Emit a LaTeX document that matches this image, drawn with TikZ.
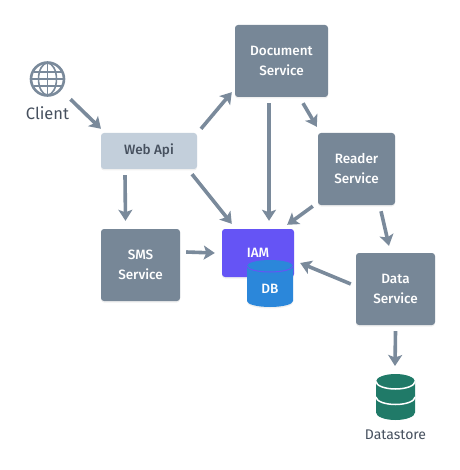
\documentclass[tikz,border=0pt]{standalone}
\usepackage{fontspec}
\setmainfont{Fira Sans}[UprightFont=* Medium]
\newfontfamily\labelfont{Fira Sans}
\usepackage{xcolor}
\usetikzlibrary{arrows.meta, shadows, calc}

\definecolor{svcgray}{HTML}{778797}
\definecolor{apigray}{HTML}{C3CFDB}
\definecolor{linegray}{HTML}{7A8A9B}
\definecolor{inkgray}{HTML}{46505E}
\definecolor{iampurple}{HTML}{6554F5}
\definecolor{dbblue}{HTML}{2B87DA}
\definecolor{storegreen}{HTML}{207A68}

\tikzset{
	softshadow/.style = {drop shadow={opacity=0.12, shadow xshift=0pt, shadow yshift=-1.5pt}},
	svcbox/.style = {rectangle, rounded corners=3pt, fill=svcgray, text=white, softshadow, align=center,
		inner sep=0pt, font=\fontsize{13.5}{20}\selectfont},
	arrow/.style = {arrows = {-Stealth[length=11pt, width=14pt, inset=2.5pt]}, line width=3.6pt, linegray},
	bandarc/.style = {start angle=180, end angle=360, x radius=#1}
}

\begin{document}
\begin{tikzpicture}[x=1pt, y=-1pt]
	\useasboundingbox (0,0) rectangle (459,470);

	% services
	\node (doc) [svcbox, minimum width=93pt, minimum height=72pt] at (281.5,61) {Document\\Service};
	\node (reader) [svcbox, minimum width=77pt, minimum height=72pt] at (356.5,169) {Reader\\Service};
	\node (sms) [svcbox, minimum width=79pt, minimum height=72pt] at (140.5,265) {SMS\\Service};
	\node (data) [svcbox, minimum width=79pt, minimum height=72pt] at (395.5,289) {Data\\Service};
	\node (webapi) [svcbox, fill=apigray, text=inkgray, minimum width=96pt, minimum height=36pt] at (149,151) {Web Api};

	% IAM and its database
	\node (iam) [svcbox, fill=iampurple, minimum width=72pt, minimum height=48pt] at (258,253) {IAM};
	\fill [dbblue, softshadow] (247,266) -- (247,301) arc [bandarc=23pt, y radius=6pt] -- (293,266)
		arc [start angle=0, end angle=180, x radius=23pt, y radius=6pt] -- cycle;
	\draw [iampurple, line width=1pt] (247,266) arc [bandarc=23pt, y radius=6pt];
	\node (db) [text=white, inner sep=0pt, font=\fontsize{13.5}{20}\selectfont] at (270,289) {DB};

	% client
	\node (globe) [circle, draw=linegray, line width=2.6pt, minimum size=33pt, inner sep=0pt] at (47.5,79) {};
	\draw [linegray, line width=1.6pt] (globe.north) -- (globe.south)
		(globe.west) -- (globe.east)
		($(globe.center)+(-14,-7)$) -- ($(globe.center)+(14,-7)$)
		($(globe.center)+(-14,7)$) -- ($(globe.center)+(14,7)$);
	\draw [linegray, line width=1.6pt] (globe.center) ellipse [x radius=9pt, y radius=16pt];
	\node (client) [text=inkgray, inner sep=0pt, font=\labelfont\fontsize{16.5}{18}\selectfont] at (47.5,113) {Client};

	% datastore
	\fill [storegreen] (376,381.5) -- (376,412.5) arc [bandarc=19.5pt, y radius=7.5pt] -- (415,381.5)
		arc [start angle=0, end angle=180, x radius=19.5pt, y radius=7.5pt] -- cycle;
	\draw [white, line width=1.5pt] (376,381.5) arc [bandarc=19.5pt, y radius=7.5pt];
	\draw [white, line width=1.5pt] (376,397) arc [bandarc=19.5pt, y radius=7.5pt];
	\coordinate (store) at (395,374);
	\node (storelabel) [text=inkgray, inner sep=0pt, font=\labelfont\fontsize{14}{16}\selectfont] at (395.5,435) {Datastore};

	% arrows
	\draw [arrow] ([xshift=23pt,yshift=7pt]client.north) -- ([xshift=-48pt,yshift=4pt]webapi.north);
	\draw [arrow] ([xshift=52pt,yshift=4pt]webapi.north) -- ([xshift=-3pt,yshift=5pt]doc.south west);
	\draw [arrow] ([xshift=-24pt,yshift=-6pt]webapi.south) -- ([xshift=-15pt,yshift=8pt]sms.north);
	\draw [arrow] ([xshift=43pt,yshift=-5pt]webapi.south) -- ([xshift=10pt,yshift=5pt]iam.north west);
	\draw [arrow] ([xshift=-12.5pt,yshift=-6pt]doc.south) -- ([xshift=11pt,yshift=8pt]iam.north);
	\draw [arrow] ([xshift=21.5pt,yshift=-6pt]doc.south) -- ([xshift=-1pt,yshift=6pt]reader.north west);
	\draw [arrow] ([xshift=-5pt,yshift=-1pt]reader.south west) -- ([xshift=-7pt,yshift=4pt]iam.north east);
	\draw [arrow] ([xshift=24.5pt,yshift=-6pt]reader.south) -- ([xshift=-6.5pt,yshift=7pt]data.north);
	\draw [arrow] ([xshift=6pt,yshift=13pt]sms.east) -- ([xshift=-7pt]iam.west);
	\draw [arrow] ([xshift=-5pt,yshift=5pt]data.west) -- ([xshift=6pt,yshift=-10pt]iam.east);
	\draw [arrow] ([yshift=-6pt]data.south) -- ([yshift=8pt]store);
\end{tikzpicture}
\end{document}
